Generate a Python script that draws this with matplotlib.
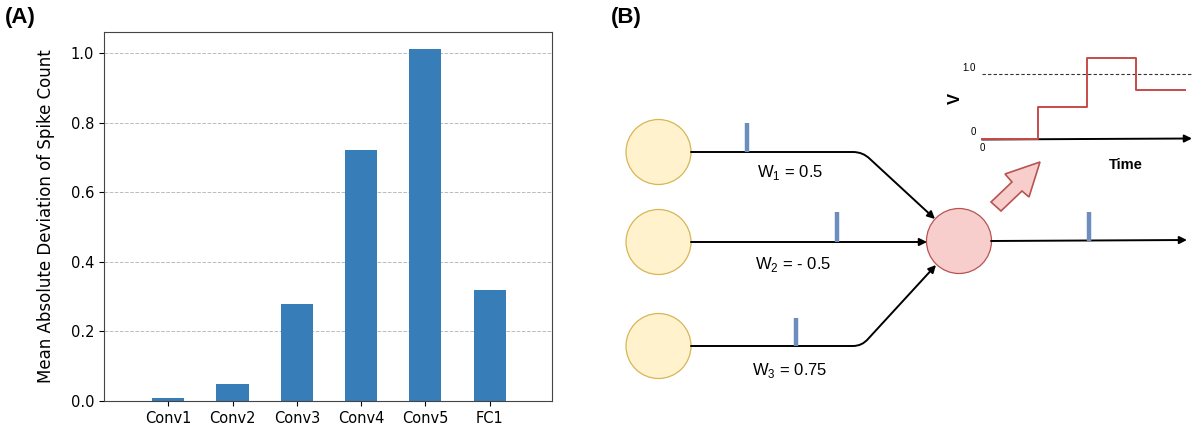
import matplotlib
matplotlib.use("Agg")
import matplotlib.pyplot as plt
import numpy as np
from matplotlib.patches import Circle, Polygon, FancyArrowPatch
from matplotlib.path import Path

# panel A data
layers = ["Conv1", "Conv2", "Conv3", "Conv4", "Conv5", "FC1"]
mad_spike = [0.01, 0.05, 0.28, 0.72, 1.01, 0.32]
y_ticks = [0.0, 0.2, 0.4, 0.6, 0.8, 1.0]

# panel B: synaptic weights and inset membrane potential
weights = ["0.5", "- 0.5", "0.75"]
v_time = [0, 1, 2, 3, 4]
v_value = [0.0, 0.5, 1.25, 0.75, 0.75]
v_threshold = 1.0

plt.rcParams['mathtext.fontset'] = 'custom'
plt.rcParams['mathtext.rm'] = 'Liberation Sans'

fig = plt.figure(figsize=(11.93, 4.28), dpi=100)

# ---- (A) bar chart ----
ax = fig.add_axes([104/1193, 27/428, 448/1193, 369/428])
x = np.arange(len(layers))
ax.bar(x, mad_spike, width=0.5, color="#377eb8", zorder=2)
ax.set_xticks(x)
ax.set_xticklabels(layers, fontsize=10.5)
ax.set_yticks(y_ticks)
ax.set_yticklabels(["%.1f" % t for t in y_ticks], fontsize=10.5)
ax.set_xlim(-1.0, 5.97)
ax.set_ylim(0, 1.06)
ax.yaxis.grid(True, linestyle="--", color="#bbbbbb", linewidth=0.7, zorder=0)
ax.set_ylabel("Mean Absolute Deviation of Spike Count", fontsize=12, labelpad=11)
for s in ax.spines.values():
    s.set_color("#444444")

fig.text(5/1193, 1 - 18/428, "(A)", fontsize=16, fontweight="bold",
         family="Liberation Sans", va="center", ha="left")
fig.text(611/1193, 1 - 18/428, "(B)", fontsize=16, fontweight="bold",
         family="Liberation Sans", va="center", ha="left")

# ---- (B) diagram, drawn in pixel-like coordinates ----
bx = fig.add_axes([600/1193, 0, 593/1193, 1])
bx.set_xlim(600, 1193)
bx.set_ylim(428, 0)
bx.axis("off")

yellow_fc, yellow_ec = "#fff2cc", "#d6b656"
red_fc, red_ec = "#f8cecc", "#b85450"
spike_c = "#6c8ebf"

in_x, r = 658.5, 32.5
in_y = [152, 242, 346]
out_c = (959, 241)
for yy in in_y:
    bx.add_patch(Circle((in_x, yy), r, fc=yellow_fc, ec=yellow_ec, lw=0.9))
bx.add_patch(Circle(out_c, r, fc=red_fc, ec=red_ec, lw=0.9))

# connections
paths = [
    Path([(691, 152), (853, 152), (863, 152), (870, 159), (935, 219)],
         [Path.MOVETO, Path.LINETO, Path.CURVE3, Path.CURVE3, Path.LINETO]),
    Path([(691, 242), (927, 242)], [Path.MOVETO, Path.LINETO]),
    Path([(691, 346), (853, 346), (862, 346), (868, 339), (936, 265)],
         [Path.MOVETO, Path.LINETO, Path.CURVE3, Path.CURVE3, Path.LINETO]),
    Path([(991, 241), (1187, 240)], [Path.MOVETO, Path.LINETO]),
]
for p in paths:
    bx.add_patch(FancyArrowPatch(path=p, arrowstyle="-|>", mutation_scale=11,
                                 color="black", lw=1.4, shrinkA=0, shrinkB=0))

# spikes
spikes = [(747, 152, 123), (837, 242, 212), (796, 346, 318), (1089, 241, 212)]
for sx, y0, y1 in spikes:
    bx.plot([sx, sx], [y0, y1], color=spike_c, lw=3.2, solid_capstyle="butt", zorder=3)

# weight labels
label_pos = [(790, 172), (793, 264), (790, 370)]
for i, (w, (lx, ly)) in enumerate(zip(weights, label_pos)):
    bx.text(lx, ly, r"W$_\mathregular{%d}$ = %s" % (i + 1, w), fontsize=12,
            family="Liberation Sans", ha="center", va="center")

# inset membrane potential
t0, t1 = 982, 1185
step_w = (t1 - 1038) / 3.0
y_zero, y_one = 139, 74
px = [t0] + [1038 + step_w * (t - 1) for t in v_time[1:]]
py = [y_zero + (y_one - y_zero) * v / v_threshold for v in v_value]
bx.step(px, py, where="post", color="#c84a4a", lw=1.4, zorder=3)
bx.plot([982, 1193], [y_one, y_one], color="#333333", lw=0.8, linestyle=(0, (3, 2)))
bx.add_patch(FancyArrowPatch((982, 139.5), (1192, 138.5), arrowstyle="-|>",
                             mutation_scale=11, color="black", lw=1.4,
                             shrinkA=0, shrinkB=0, zorder=2))
bx.text(969, 68, "1.0", fontsize=7, family="Liberation Sans", ha="center", va="center")
bx.text(973, 132, "0", fontsize=7, family="Liberation Sans", ha="center", va="center")
bx.text(982, 148, "0", fontsize=7, family="Liberation Sans", ha="center", va="center")
bx.text(955, 98, "V", fontsize=12, fontweight="bold", family="Liberation Sans",
        rotation=90, ha="center", va="center")
bx.text(1126, 165, "Time", fontsize=10.5, fontweight="bold", family="Liberation Sans",
        ha="center", va="center")

# fat arrow from neuron to inset
bx.add_patch(Polygon([(1040, 162), (1005, 174), (1012, 182), (991, 202),
                      (1001, 211), (1022, 191), (1029, 197)],
                     closed=True, fc=red_fc, ec=red_ec, lw=1.2))

fig.savefig("out.png", dpi=100)
